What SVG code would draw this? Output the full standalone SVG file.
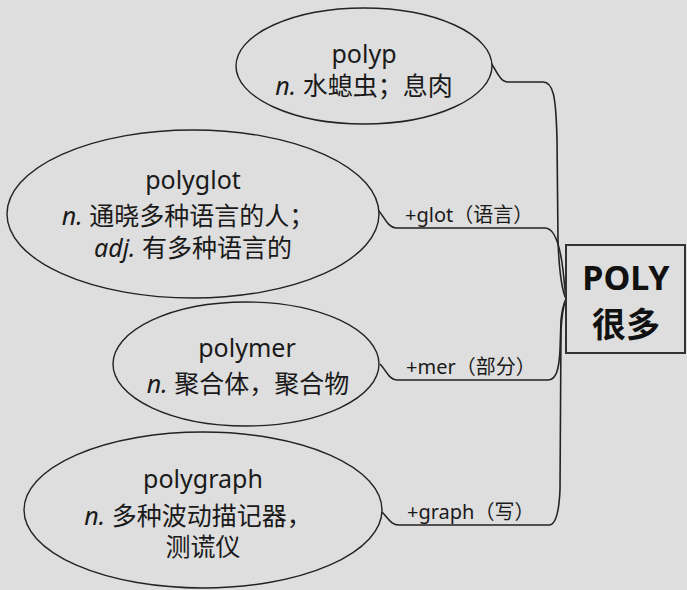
<svg xmlns="http://www.w3.org/2000/svg" width="687" height="590" viewBox="0 0 687 590">
<style>
.bg{fill:#dedede}
.node ellipse{fill:#dedede;stroke:#222;stroke-width:1.4}
.t{font-family:"Noto Sans","Noto Sans CJK SC",sans-serif;font-size:25px;fill:#1a1a1a;text-anchor:middle}
.i{font-style:italic}
.lbl{font-family:"Noto Sans","Noto Sans CJK SC",sans-serif;font-size:20px;fill:#1a1a1a}
.conn path{fill:none;stroke:#222;stroke-width:1.6}
.hub rect{fill:#dedede;stroke:#333;stroke-width:2}
.hub text{font-family:"Noto Sans","Noto Sans CJK SC",sans-serif;font-size:34px;font-weight:bold;fill:#111;text-anchor:middle}
</style>
<rect class="bg" x="0" y="0" width="687" height="590"/>
<g id="connectors" class="conn">
<path d="M491,63 C496,70 500,82 508,82 L543,82 C553,82 556,95 557,140 L558,240 C559,270 562,290 566,299"/>
<path d="M378,210 C384,216 388,228 396,228 L545,228 C555,228 560,245 563,270 L566,299"/>
<path d="M380,364 C386,370 389,380 397,380 L548,380 C556,380 559,370 560,350 L561,320 C562,310 564,303 566,299"/>
<path d="M382,512 C388,518 391,525 399,525 L549,525 C556,525 559,512 560,490 L561,330 C562,312 564,304 566,299"/>
</g>
<g id="hub" class="hub">
<rect x="566" y="245" width="119" height="108"/>
<text x="626" y="290">POLY</text>
<text x="626" y="337">很多</text>
</g>
<g id="polyp" class="node">
<ellipse cx="364" cy="66" rx="128" ry="58"/>
<text class="t" x="364" y="63">polyp</text>
<text class="t" x="364" y="95"><tspan class="i">n.</tspan> 水螅虫；息肉</text>
</g>
<g id="polyglot" class="node">
<ellipse cx="193" cy="214" rx="186" ry="84"/>
<text class="t" x="193" y="189">polyglot</text>
<text class="t" x="188" y="225"><tspan class="i">n.</tspan> 通晓多种语言的人；</text>
<text class="t" x="193" y="257"><tspan class="i">adj.</tspan> 有多种语言的</text>
</g>
<g id="polymer" class="node">
<ellipse cx="246" cy="364" rx="133" ry="62"/>
<text class="t" x="247" y="357">polymer</text>
<text class="t" x="248" y="393"><tspan class="i">n.</tspan> 聚合体，聚合物</text>
</g>
<g id="polygraph" class="node">
<ellipse cx="203" cy="510" rx="179" ry="78"/>
<text class="t" x="203" y="488">polygraph</text>
<text class="t" x="198" y="525"><tspan class="i">n.</tspan> 多种波动描记器，</text>
<text class="t" x="203" y="556">测谎仪</text>
</g>
<g id="labels">
<text class="lbl" x="405" y="222">+glot（语言）</text>
<text class="lbl" x="406" y="374">+mer（部分）</text>
<text class="lbl" x="407" y="519">+graph（写）</text>
</g>
</svg>
